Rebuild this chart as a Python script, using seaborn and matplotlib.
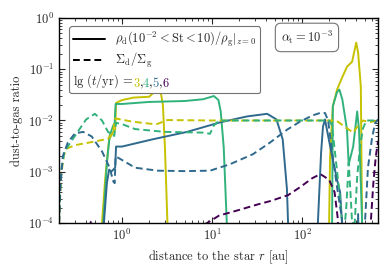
"""
Dust-to-gas ratio profiles at several times (alpha_t = 1e-3).
"""

import numpy as np
import pandas as pd
import matplotlib
matplotlib.use("Agg")
import matplotlib.pyplot as plt
import seaborn as sns
from matplotlib.lines import Line2D
from matplotlib.transforms import IdentityTransform

# ---- data (r in au, dust-to-gas ratio) ----
times = [3, 4, 5, 6]
colors = ["#c6c200", "#31b27c", "#2f6a8e", "#440154"]

# solid: rho_d(1e-2 < St < 10) / rho_g at midplane
r_sol_3 = [0.2, 0.58, 0.6, 0.65, 0.72, 0.8, 0.84, 0.86, 1.0, 1.35, 2.0, 2.45, 2.7, 2.85, 3.0, 3.2, 3.3,
           190, 200, 205, 220, 245, 278, 316, 360, 400, 420, 450, 464, 470, 700]
v_sol_3 = [1e-6, 1e-6, 1e-4, 7e-4, 4.3e-3, 6e-3, 6.7e-3, 2.2e-2, 2.5e-2, 2.8e-2, 2.9e-2, 4e-2, 3.5e-2, 2e-2, 3e-3, 1e-4, 1e-6,
           1e-6, 1e-4, 2e-3, 1.9e-2, 4e-2, 6.8e-2, 0.112, 0.14, 0.33, 0.21, 0.046, 1.2e-4, 1e-6, 1e-6]

r_sol_4 = [0.2, 0.6, 0.62, 0.68, 0.73, 0.8, 0.83, 0.85, 1.0, 2.0, 5.0, 8.0, 10.5, 11.8, 12.5, 13.5, 14.6, 15,
           210, 216, 220, 245, 260, 280, 316, 330, 370, 410, 430, 464, 470, 700]
v_sol_4 = [1e-6, 1e-6, 1e-4, 1.5e-3, 5e-3, 8e-3, 9e-3, 2.1e-2, 2.1e-2, 2.3e-2, 2.4e-2, 2.6e-2, 3e-2, 2.5e-2, 1.5e-2, 3e-3, 1e-4, 1e-6,
           1e-6, 1.2e-4, 1.9e-2, 3.6e-2, 4e-2, 2.6e-2, 6.6e-3, 1.4e-3, 3.1e-3, 1.5e-2, 6.6e-3, 1.2e-4, 1e-6, 1e-6]

r_sol_5 = [0.2, 0.6, 0.63, 0.68, 0.72, 0.76, 0.8, 0.84, 0.86, 1.0, 2.2, 5.3, 12.3, 24.5, 41, 52, 61, 68, 70, 72,
           145, 150, 163, 171, 180, 195, 220, 250, 265, 278, 285, 400, 420, 440, 700]
v_sol_5 = [1e-6, 1e-6, 1e-4, 6e-4, 1.1e-3, 1e-3, 1.1e-3, 1.2e-3, 3.1e-3, 3.1e-3, 4.3e-3, 6e-3, 9.2e-3, 1.2e-2, 1.35e-2, 1.05e-2, 4.3e-3, 4.6e-4, 1e-4, 1e-6,
           1e-6, 1e-4, 2.4e-3, 7.6e-3, 1.05e-2, 5e-3, 1.7e-3, 6e-4, 4e-4, 1e-4, 1e-6, 1e-6, 1.5e-4, 1e-6, 1e-6]

r_sol_6 = [0.2, 0.38, 0.45, 0.52, 700]
v_sol_6 = [1e-6, 1e-6, 1.05e-4, 1e-6, 1e-6]

# dashed: Sigma_d / Sigma_g
r_das_3 = [0.2, 0.21, 0.225, 0.24, 0.3, 0.5, 0.7, 0.79, 0.84, 1.3, 2.4, 3.2, 10, 100, 240, 300, 370, 420, 475, 570, 700]
v_das_3 = [1e-4, 8e-4, 2e-3, 2.8e-3, 3.3e-3, 3.9e-3, 4.4e-3, 5.8e-3, 1.1e-2, 9.5e-3, 8.4e-3, 1.02e-2, 1e-2, 1e-2, 1e-2,
           7.5e-3, 5.8e-3, 8e-3, 1e-2, 9.3e-3, 1e-2]

r_das_4 = [0.2, 0.21, 0.23, 0.3, 0.4, 0.5, 0.6, 0.7, 0.82, 0.86, 1.0, 1.4, 3.0, 8.0, 9.5, 10.5, 12, 100, 200, 215, 235,
           260, 280, 290, 310, 330, 345, 360, 385, 410, 440, 475, 520, 700]
v_das_4 = [1e-4, 1e-3, 2.5e-3, 5e-3, 1.05e-2, 1.35e-2, 1e-2, 6e-3, 5e-3, 9e-3, 8.5e-3, 6.8e-3, 6e-3, 5.8e-3, 5.5e-3, 8e-3, 1e-2, 1e-2, 1e-2, 8e-3, 2e-3,
           4e-4, 1e-4, 5e-5, 2e-4, 1.5e-3, 4e-4, 1e-4, 1e-4, 8e-4, 3e-3, 7e-3, 1e-2, 1e-2]

r_das_5 = [0.2, 0.205, 0.22, 0.25, 0.3, 0.37, 0.46, 0.6, 0.73, 0.8, 0.83, 0.85, 1.0, 1.4, 2.5, 5, 9.5, 15.8, 28.5, 44, 68, 95,
           130, 158, 180, 195, 216, 245, 278, 300, 480, 500, 540, 600, 650, 700]
v_das_5 = [1e-4, 4e-4, 2e-3, 3.7e-3, 5.6e-3, 6e-3, 4.9e-3, 2.5e-3, 1.2e-3, 6.5e-4, 6e-4, 2e-3, 1.7e-3, 1.2e-3, 1.05e-3, 1.03e-3, 1.05e-3, 1.4e-3, 2.2e-3, 3.7e-3, 6.6e-3, 9.5e-3,
           1.25e-2, 1.4e-2, 1.4e-2, 1e-2, 2.4e-3, 5e-4, 1.2e-4, 1e-6, 1e-6, 1e-4, 1.2e-3, 4.6e-3, 9e-3, 1.05e-2]

r_das_6 = [0.2, 7, 8.8, 12, 20, 32, 45, 70, 95, 130, 160, 200, 230, 250, 260, 560, 580, 620, 660, 700]
v_das_6 = [1e-6, 8e-5, 1e-4, 1.4e-4, 1.8e-4, 2.3e-4, 2.7e-4, 3.5e-4, 5e-4, 7.5e-4, 9e-4, 7e-4, 4e-4, 1.2e-4, 1e-6,
           1e-6, 1e-4, 6e-4, 2e-3, 4e-3]

solid = [(r_sol_3, v_sol_3), (r_sol_4, v_sol_4), (r_sol_5, v_sol_5), (r_sol_6, v_sol_6)]
dashed = [(r_das_3, v_das_3), (r_das_4, v_das_4), (r_das_5, v_das_5), (r_das_6, v_das_6)]

# ---- style ----
FS = 9
sns.set_style("ticks")
plt.rcParams["font.family"] = "serif"
plt.rcParams["font.serif"] = ["cmr10", "DejaVu Serif"]
plt.rcParams["mathtext.fontset"] = "cm"
plt.rcParams["axes.formatter.use_mathtext"] = True
plt.rcParams["axes.unicode_minus"] = False
plt.rcParams["font.size"] = FS
for a in ("x", "y"):
    plt.rcParams[f"{a}tick.direction"] = "in"
    plt.rcParams[f"{a}tick.major.size"] = 4
    plt.rcParams[f"{a}tick.minor.size"] = 2.2
    plt.rcParams[f"{a}tick.major.width"] = 0.8
    plt.rcParams[f"{a}tick.minor.width"] = 0.6
    plt.rcParams[f"{a}tick.labelsize"] = FS

fig = plt.figure(figsize=(3.91, 2.72), dpi=100)
ax = fig.add_axes([0.151, 0.180, 0.816, 0.754])

for (r, v), c in zip(solid, colors):
    df = pd.DataFrame({"r": r, "v": v})
    sns.lineplot(data=df, x="r", y="v", ax=ax, color=c, lw=1.4, sort=False, estimator=None)
for (r, v), c in zip(dashed, colors):
    df = pd.DataFrame({"r": r, "v": v})
    sns.lineplot(data=df, x="r", y="v", ax=ax, color=c, lw=1.4, ls=(0, (3.5, 2.0)),
                 sort=False, estimator=None)

ax.set_xscale("log")
ax.set_yscale("log")
ax.set_xlim(0.2, 700)
ax.set_ylim(1e-4, 1)
ax.set_xlabel(r"distance to the star $r$ [au]", fontsize=FS)
ax.set_ylabel("dust-to-gas ratio", fontsize=FS)
ax.tick_params(which="both", top=True, right=True)
for s in ax.spines.values():
    s.set_linewidth(1.0)
    s.set_color("black")

time_label = r"$\lg\,(t/{\rm yr})$ ="
handles = [Line2D([], [], color="black", lw=1.4),
           Line2D([], [], color="black", lw=1.4, ls=(0, (3.5, 2.0))),
           Line2D([], [], color="none")]
labels = [r"$\rho_{\rm d}(10^{-2}<{\rm St}<10)/\rho_{\rm g}|_{z=0}$",
          r"$\Sigma_{\rm d}/\Sigma_{\rm g}$", time_label]
leg = ax.legend(handles, labels, loc="upper left", bbox_to_anchor=(0.012, 0.99),
                fontsize=FS, handlelength=2.6, handletextpad=0.8, labelspacing=0.15,
                borderpad=0.3, fancybox=True, framealpha=1, edgecolor="0.45")
leg.get_frame().set_linewidth(0.8)
leg.get_texts()[2].set_alpha(0)

# coloured time labels on the third legend row, starting under the handles
fig.canvas.draw()
hb = leg.legend_handles[0].get_window_extent()
tb = leg.get_texts()[2].get_window_extent()
prev = ax.text(hb.x0, tb.y0, time_label, transform=IdentityTransform(),
               fontsize=FS, ha="left", va="bottom", zorder=10)
for i, (t, c) in enumerate(zip(times, colors)):
    prev = ax.annotate(str(t), xy=(1, 0), xycoords=prev, va="bottom", ha="left",
                       color=c, fontsize=FS, zorder=10)
    if i < len(times) - 1:
        prev = ax.annotate(",", xy=(1, 0), xycoords=prev, va="bottom", ha="left",
                           color="black", fontsize=FS, zorder=10)

ax.text(0.777, 0.905, r"$\alpha_{\rm t}=10^{-3}$", transform=ax.transAxes, fontsize=FS,
        ha="center", va="center",
        bbox=dict(boxstyle="round,pad=0.45", fc="white", ec="0.45", lw=0.8))

fig.savefig("out.png", dpi=100)
